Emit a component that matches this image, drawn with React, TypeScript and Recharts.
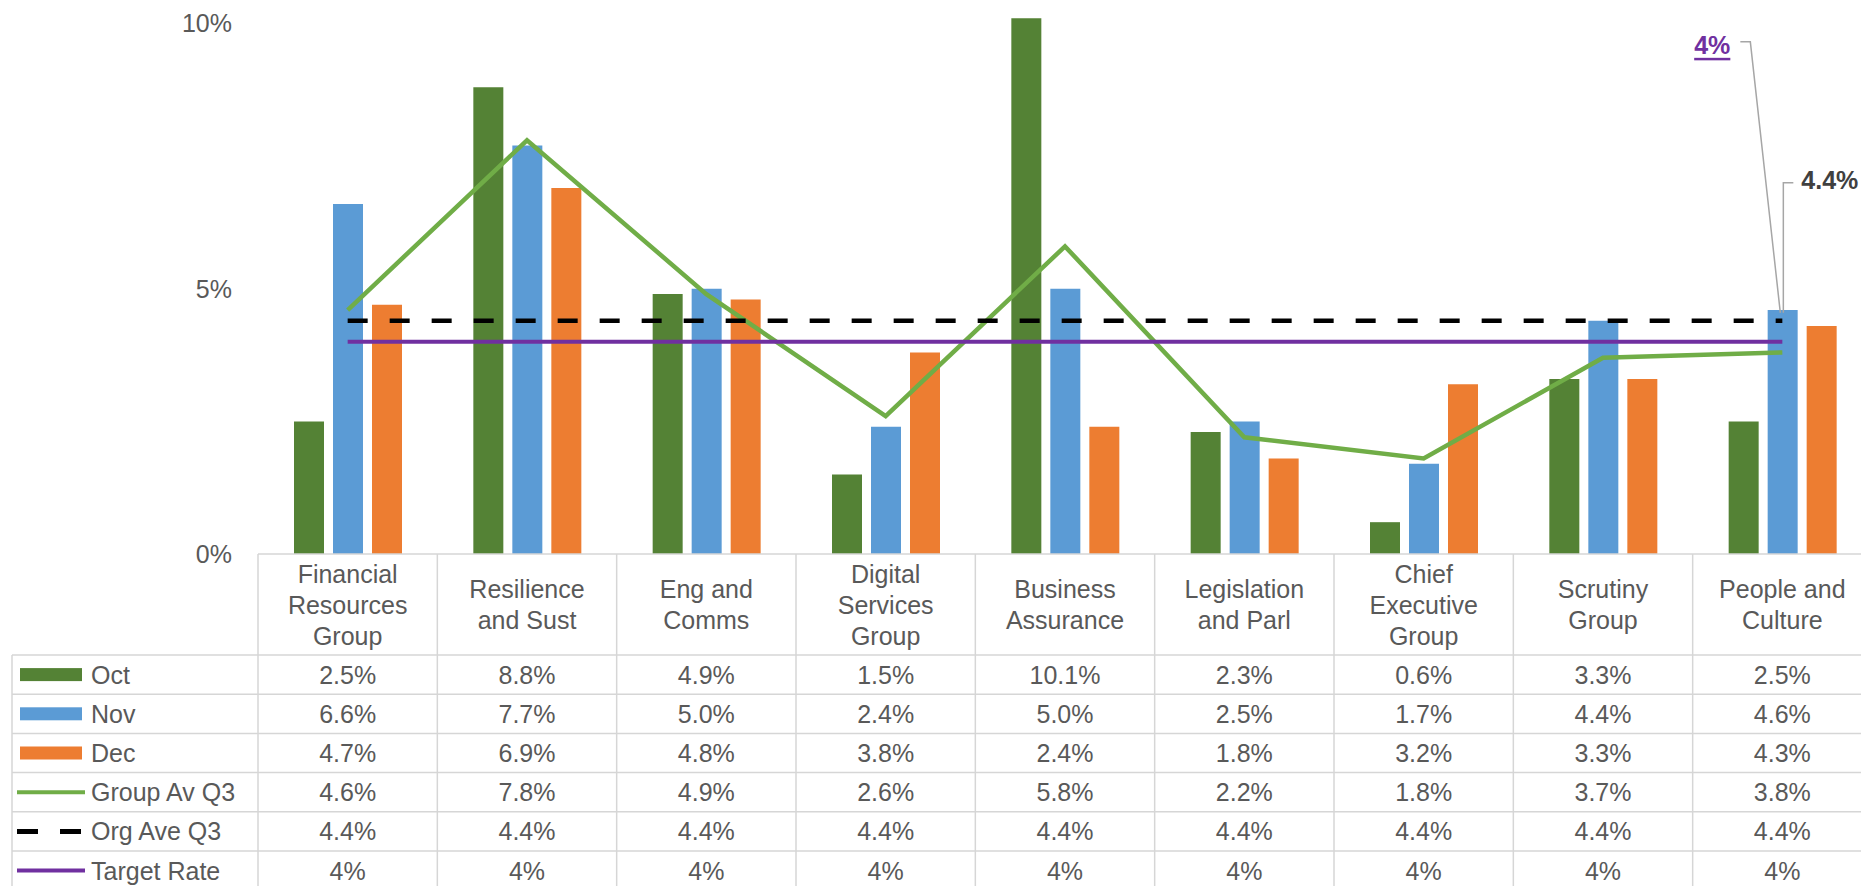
import React from "react";
import { Bar, ComposedChart, Line, XAxis, YAxis } from "recharts";

// Absence rate by group, Q3 (values in %)
const categories = [
  "Financial Resources Group",
  "Resilience and Sust",
  "Eng and Comms",
  "Digital Services Group",
  "Business Assurance",
  "Legislation and Parl",
  "Chief Executive Group",
  "Scrutiny Group",
  "People and Culture",
];

// how each category name wraps in the header row of the table
const categoryLines = [
  ["Financial", "Resources", "Group"],
  ["Resilience", "and Sust"],
  ["Eng and", "Comms"],
  ["Digital", "Services", "Group"],
  ["Business", "Assurance"],
  ["Legislation", "and Parl"],
  ["Chief", "Executive", "Group"],
  ["Scrutiny", "Group"],
  ["People and", "Culture"],
];

const oct = [2.5, 8.8, 4.9, 1.5, 10.1, 2.3, 0.6, 3.3, 2.5];
const nov = [6.6, 7.7, 5.0, 2.4, 5.0, 2.5, 1.7, 4.4, 4.6];
const dec = [4.7, 6.9, 4.8, 3.8, 2.4, 1.8, 3.2, 3.3, 4.3];
const groupAvQ3 = [4.6, 7.8, 4.9, 2.6, 5.8, 2.2, 1.8, 3.7, 3.8];
const orgAveQ3 = [4.4, 4.4, 4.4, 4.4, 4.4, 4.4, 4.4, 4.4, 4.4];
const targetRate = [4, 4, 4, 4, 4, 4, 4, 4, 4];

const yTicks = [0, 5, 10];

const data = categories.map((name, i) => ({
  name,
  oct: oct[i],
  nov: nov[i],
  dec: dec[i],
  groupAv: groupAvQ3[i],
  orgAve: orgAveQ3[i],
  target: targetRate[i],
}));

const FONT = "'Liberation Sans', Arial, Helvetica, sans-serif";
const TEXT = "#595959";
const RULE = "#d6d6d6";
const FS = 25;

const OCT_C = "#548235";
const NOV_C = "#5B9BD5";
const DEC_C = "#ED7D31";
const GROUP_C = "#70AD47";
const ORG_C = "#000000";
const TARGET_C = "#7030A0";

const pct1 = (v: number) => `${v.toFixed(1)}%`;
const pct0 = (v: number) => `${v}%`;

const tableRows = [
  { label: "Oct", values: oct, kind: "bar", color: OCT_C, fmt: pct1 },
  { label: "Nov", values: nov, kind: "bar", color: NOV_C, fmt: pct1 },
  { label: "Dec", values: dec, kind: "bar", color: DEC_C, fmt: pct1 },
  { label: "Group Av Q3", values: groupAvQ3, kind: "line", color: GROUP_C, fmt: pct1 },
  { label: "Org Ave Q3", values: orgAveQ3, kind: "dash", color: ORG_C, fmt: pct1 },
  { label: "Target Rate", values: targetRate, kind: "line", color: TARGET_C, fmt: pct0 },
];

const HEADER_H = 101;
const ROW_H = 39.2;
const HEAD_LH = 31;
const TABLE_LEFT = 12;

function LegendKey({ kind, color, mid }: { kind: string; color: string; mid: number }) {
  if (kind === "bar") {
    return <rect x={20} y={mid - 6.5} width={62} height={13} fill={color} />;
  }
  if (kind === "dash") {
    return (
      <line x1={17} x2={81} y1={mid} y2={mid} stroke={color} strokeWidth={5} strokeDasharray="21 22" />
    );
  }
  return <line x1={17} x2={85} y1={mid} y2={mid} stroke={color} strokeWidth={4} />;
}

// x-axis tick that draws one column of the data table under the plot
function TableTick(props: any) {
  const { x, y, payload } = props;
  const i = payload.index as number;
  const half = payload.offset || 89.7;
  const left = x - half;
  const right = x + half;
  const rowTop = y + HEADER_H;
  const bottom = y + 360;
  const lines = categoryLines[i];
  const headMid = y + HEADER_H / 2;

  return (
    <g fontFamily={FONT} fontSize={FS} fill={TEXT}>
      <line x1={left} x2={left} y1={y} y2={bottom} stroke={RULE} strokeWidth={1.5} />
      {i === categories.length - 1 && (
        <line x1={right} x2={right} y1={y} y2={bottom} stroke={RULE} strokeWidth={1.5} />
      )}
      {lines.map((t, j) => (
        <text
          key={t + j}
          x={x}
          y={headMid + (j - (lines.length - 1) / 2) * HEAD_LH}
          textAnchor="middle"
          dominantBaseline="central"
        >
          {t}
        </text>
      ))}
      {tableRows.map((r, k) => {
        const top = rowTop + k * ROW_H;
        return (
          <g key={r.label}>
            <line x1={left} x2={right} y1={top} y2={top} stroke={RULE} strokeWidth={1.5} />
            <text x={x} y={top + ROW_H / 2} textAnchor="middle" dominantBaseline="central">
              {r.fmt(r.values[i])}
            </text>
          </g>
        );
      })}
      {i === 0 && (
        <g>
          <line x1={TABLE_LEFT} x2={TABLE_LEFT} y1={rowTop} y2={bottom} stroke={RULE} strokeWidth={1.5} />
          {tableRows.map((r, k) => {
            const top = rowTop + k * ROW_H;
            const mid = top + ROW_H / 2;
            return (
              <g key={r.label}>
                <line x1={TABLE_LEFT} x2={left} y1={top} y2={top} stroke={RULE} strokeWidth={1.5} />
                <LegendKey kind={r.kind} color={r.color} mid={mid} />
                <text x={91} y={mid} dominantBaseline="central">
                  {r.label}
                </text>
              </g>
            );
          })}
        </g>
      )}
    </g>
  );
}

const lastIndex = categories.length - 1;

function TargetCallout(p: any) {
  const { cx, cy, index, value } = p;
  if (index !== lastIndex) return <g key={`tc-${index}`} />;
  return (
    <g key="target-callout">
      <polyline
        points={`${cx - 42},${cy - 300} ${cx - 32},${cy - 300} ${cx - 2},${cy - 29}`}
        fill="none"
        stroke="#a6a6a6"
        strokeWidth={1.5}
      />
      <text
        x={cx - 52}
        y={cy - 297}
        textAnchor="end"
        dominantBaseline="central"
        fill={TARGET_C}
        fontFamily={FONT}
        fontSize={FS}
        fontWeight="bold"
        textDecoration="underline"
      >
        {pct0(value)}
      </text>
    </g>
  );
}

function OrgCallout(p: any) {
  const { cx, cy, index, value } = p;
  if (index !== lastIndex) return <g key={`oc-${index}`} />;
  return (
    <g key="org-callout">
      <polyline
        points={`${cx + 11},${cy - 138} ${cx + 1},${cy - 138} ${cx + 1},${cy - 8}`}
        fill="none"
        stroke="#a6a6a6"
        strokeWidth={1.5}
      />
      <text
        x={cx + 19}
        y={cy - 141}
        dominantBaseline="central"
        fill="#404040"
        fontFamily={FONT}
        fontSize={FS}
        fontWeight="bold"
      >
        {pct1(value)}
      </text>
    </g>
  );
}

export default function App() {
  return (
    <div
      style={{
        position: "absolute",
        left: 0,
        top: 0,
        width: 1861,
        height: 886,
        overflow: "hidden",
        background: "#fff",
        fontFamily: FONT,
      }}
    >
      <ComposedChart
        width={1880}
        height={900}
        data={data}
        margin={{ top: 13, right: 8, bottom: 0, left: 0 }}
        barGap={9}
      >
        <XAxis
          dataKey="name"
          interval={0}
          height={346}
          tickLine={false}
          tickSize={0}
          tickMargin={0}
          axisLine={{ stroke: RULE, strokeWidth: 1.5 }}
          tick={<TableTick />}
        />
        <YAxis
          width={258}
          domain={[0, 10.2]}
          ticks={yTicks}
          tickFormatter={(v) => `${v}%`}
          axisLine={false}
          tickLine={false}
          tickSize={0}
          tickMargin={26}
          tick={{ fill: TEXT, fontSize: FS, fontFamily: FONT }}
        />
        <Bar dataKey="oct" fill={OCT_C} barSize={30} isAnimationActive={false} />
        <Bar dataKey="nov" fill={NOV_C} barSize={30} isAnimationActive={false} />
        <Bar dataKey="dec" fill={DEC_C} barSize={30} isAnimationActive={false} />
        <Line
          type="linear"
          dataKey="groupAv"
          stroke={GROUP_C}
          strokeWidth={4.5}
          dot={false}
          isAnimationActive={false}
        />
        <Line
          type="linear"
          dataKey="orgAve"
          stroke={ORG_C}
          strokeWidth={4.5}
          strokeDasharray="20 22"
          dot={OrgCallout}
          activeDot={false}
          isAnimationActive={false}
        />
        <Line
          type="linear"
          dataKey="target"
          stroke={TARGET_C}
          strokeWidth={4}
          dot={TargetCallout}
          activeDot={false}
          isAnimationActive={false}
        />
      </ComposedChart>
    </div>
  );
}
